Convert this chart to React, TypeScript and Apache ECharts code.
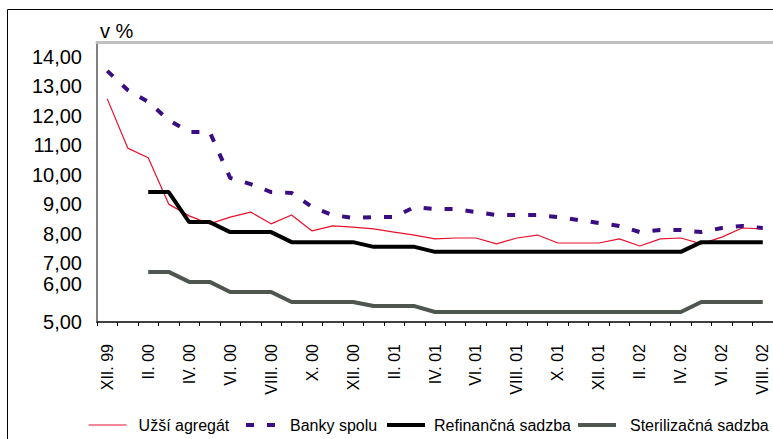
import React, { useEffect, useRef } from "react";
import * as echarts from "echarts";

const categories = [
  "XII. 99",
  "I. 00", "II. 00", "III. 00", "IV. 00", "V. 00", "VI. 00", "VII. 00", "VIII. 00", "IX. 00", "X. 00", "XI. 00", "XII. 00",
  "I. 01", "II. 01", "III. 01", "IV. 01", "V. 01", "VI. 01", "VII. 01", "VIII. 01", "IX. 01", "X. 01", "XI. 01", "XII. 01",
  "I. 02", "II. 02", "III. 02", "IV. 02", "V. 02", "VI. 02", "VII. 02", "VIII. 02",
];

const uzsiAgregat = [
  12.57, 10.9, 10.57, 9.0, 8.6, 8.33, 8.56, 8.73, 8.33, 8.63, 8.09, 8.26, 8.22,
  8.16, 8.05, 7.95, 7.82, 7.85, 7.85, 7.65, 7.85, 7.95, 7.68, 7.68, 7.68,
  7.82, 7.58, 7.82, 7.85, 7.65, 7.88, 8.19, 8.16,
];

const bankySpolu = [
  13.52, 12.87, 12.47, 11.85, 11.45, 11.45, 9.89, 9.68, 9.41, 9.38, 8.9, 8.63, 8.53,
  8.56, 8.56, 8.9, 8.83, 8.83, 8.73, 8.63, 8.63, 8.63, 8.56, 8.46, 8.36,
  8.26, 8.05, 8.12, 8.12, 8.05, 8.19, 8.26, 8.19,
];

const refinancnaSadzba: (number | string)[] = [
  "-", "-", 9.41, 9.41, 8.39, 8.39, 8.05, 8.05, 8.05, 7.71, 7.71, 7.71, 7.71,
  7.55, 7.55, 7.55, 7.38, 7.38, 7.38, 7.38, 7.38, 7.38, 7.38, 7.38, 7.38,
  7.38, 7.38, 7.38, 7.38, 7.71, 7.71, 7.71, 7.71,
];

const sterilizacnaSadzba: (number | string)[] = [
  "-", "-", 6.7, 6.7, 6.36, 6.36, 6.02, 6.02, 6.02, 5.68, 5.68, 5.68, 5.68,
  5.54, 5.54, 5.54, 5.34, 5.34, 5.34, 5.34, 5.34, 5.34, 5.34, 5.34, 5.34,
  5.34, 5.34, 5.34, 5.34, 5.68, 5.68, 5.68, 5.68,
];

const seriesNames = ["Užší agregát", "Banky spolu", "Refinančná sadzba", "Sterilizačná sadzba"];
const yMin = 5;
const yMax = 14.5;
const yUnit = "v %";

const FONT = "'Liberation Sans', Arial, sans-serif";

export default function App() {
  const ref = useRef<HTMLDivElement>(null);

  useEffect(() => {
    document.body.style.margin = "0";
    if (!ref.current) return;
    const chart = echarts.init(ref.current, null, { renderer: "svg" });

    const legendBase = (name: string, left: number, width: number, padLeft: number) => ({
      data: [name],
      left,
      top: 417,
      padding: 0,
      itemWidth: 38,
      itemHeight: 14,
      lineStyle: { width },
      itemStyle: { opacity: 0, color: "rgba(0,0,0,0)", borderWidth: 0 },
      textStyle: { fontSize: 16, color: "#000", fontFamily: FONT, padding: [0, 0, 8, padLeft] },
    });

    chart.setOption({
      animation: false,
      textStyle: { fontFamily: FONT },
      graphic: [
        {
          type: "rect",
          silent: true,
          shape: { x: 7.5, y: 9.5, width: 800, height: 500 },
          style: { fill: "none", stroke: "#000", lineWidth: 1 },
        },
      ],
      legend: [
        legendBase(seriesNames[0], 88, 1.2, 7),
        legendBase(seriesNames[1], 244, 4, 1),
        legendBase(seriesNames[2], 385, 4, 4),
        legendBase(seriesNames[3], 576, 4, 9),
      ],
      grid: { left: 97, right: 0, top: 42, bottom: 117 },
      xAxis: [
        {
          type: "category",
          data: categories,
          boundaryGap: true,
          axisLine: { lineStyle: { color: "#404040", width: 2 } },
          axisTick: { show: true, interval: 0, length: 4, lineStyle: { color: "#000" } },
          axisLabel: {
            interval: 1,
            rotate: 90,
            margin: 22,
            fontSize: 16,
            color: "#000",
            fontFamily: FONT,
            padding: [0, 0, 11, 0],
          },
          splitLine: { show: false },
        },
        {
          type: "category",
          position: "top",
          data: categories,
          axisLine: { lineStyle: { color: "#c0c0c0", width: 3 } },
          axisTick: { show: false },
          axisLabel: { show: false },
          splitLine: { show: false },
        },
      ],
      yAxis: [
        {
          type: "value",
          min: yMin,
          max: yMax,
          interval: 1,
          name: yUnit,
          nameLocation: "end",
          nameGap: 1,
          nameTextStyle: {
            fontSize: 20,
            color: "#000",
            fontFamily: FONT,
            align: "left",
            verticalAlign: "bottom",
            padding: [0, 0, 0, 3],
          },
          axisLine: { show: true, lineStyle: { color: "#808080", width: 2 } },
          axisTick: { show: false },
          splitLine: { show: false },
          axisLabel: {
            margin: 15,
            fontSize: 20,
            lineHeight: 19,
            color: "#000",
            fontFamily: FONT,
            showMinLabel: true,
            showMaxLabel: false,
            formatter: (v: number) => {
              if (Math.abs(v - Math.round(v)) > 1e-6) return "";
              const s = v.toFixed(2).replace(".", ",");
              return v === 6 ? "{up|" + s + "}" : s;
            },
            rich: {
              up: { fontSize: 20, lineHeight: 19, color: "#000", fontFamily: FONT, padding: [0, 0, 18, 0] },
            },
          },
        },
        {
          type: "value",
          min: 0,
          max: 7,
          interval: 1,
          axisLine: { show: false },
          axisTick: { show: true, length: 4, lineStyle: { color: "#000" } },
          axisLabel: { show: false },
          splitLine: { show: false },
        },
      ],
      series: [
        {
          name: seriesNames[0],
          type: "line",
          data: uzsiAgregat,
          symbol: "none",
          lineStyle: { color: "#e8112d", width: 1.2 },
          itemStyle: { color: "#e8112d" },
        },
        {
          name: seriesNames[1],
          type: "line",
          data: bankySpolu,
          symbol: "none",
          lineStyle: { color: "#3b0d82", width: 4, type: [8, 13] },
          itemStyle: { color: "#3b0d82" },
        },
        {
          name: seriesNames[2],
          type: "line",
          data: refinancnaSadzba,
          symbol: "none",
          lineStyle: { color: "#000000", width: 4 },
          itemStyle: { color: "#000000" },
        },
        {
          name: seriesNames[3],
          type: "line",
          data: sterilizacnaSadzba,
          symbol: "none",
          lineStyle: { color: "#4f554f", width: 4 },
          itemStyle: { color: "#4f554f" },
        },
      ],
    });

    return () => chart.dispose();
  }, []);

  return <div ref={ref} style={{ width: 773, height: 439 }} />;
}
